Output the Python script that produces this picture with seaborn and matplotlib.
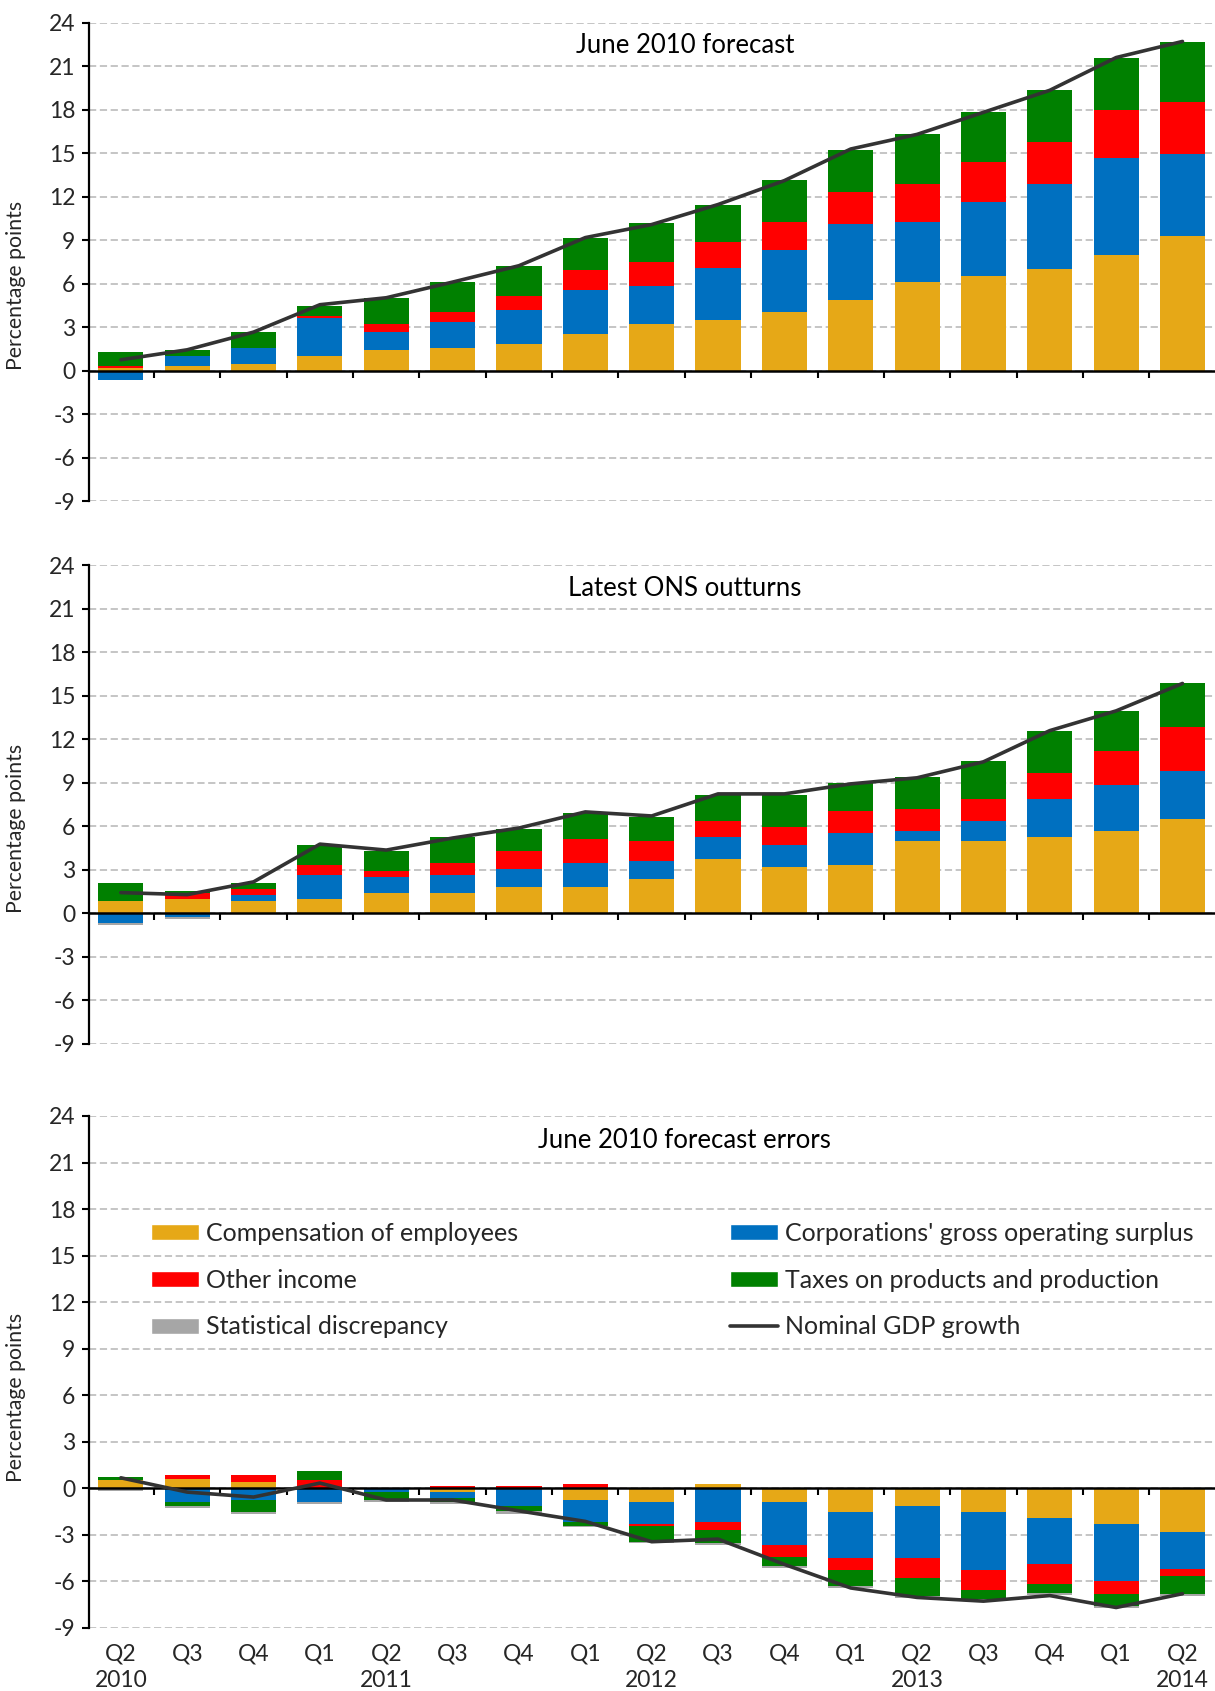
import numpy as np
import matplotlib
matplotlib.use("Agg")
import matplotlib.pyplot as plt
import seaborn as sns
from matplotlib.patches import Patch
from matplotlib.lines import Line2D

sns.set_theme(style="white")
plt.rcParams['font.family'] = ['Lato', 'DejaVu Sans']
plt.rcParams['axes.unicode_minus'] = False

# ------------------------------------------------------------------
# Data (percentage points, cumulative since Q1 2010)
# ------------------------------------------------------------------
quarters = ["Q2\n2010", "Q3", "Q4", "Q1", "Q2\n2011", "Q3", "Q4", "Q1",
            "Q2\n2012", "Q3", "Q4", "Q1", "Q2\n2013", "Q3", "Q4", "Q1", "Q2\n2014"]

# June 2010 forecast
fc_comp = [0.18, 0.32, 0.46, 1.01, 1.43, 1.57, 1.84, 2.53, 3.23, 3.50, 4.06, 4.88, 6.13, 6.54, 7.03, 8.00, 9.26]
fc_corp = [-0.62, 0.69, 1.10, 2.63, 1.24, 1.80, 2.35, 3.04, 2.63, 3.59, 4.24, 5.21, 4.10, 5.07, 5.83, 6.66, 5.67]
fc_other = [0.15, 0.0, 0.0, 0.14, 0.55, 0.69, 0.97, 1.38, 1.66, 1.75, 1.94, 2.21, 2.63, 2.76, 2.90, 3.32, 3.59]
fc_taxes = [0.97, 0.41, 1.10, 0.69, 1.80, 2.07, 2.07, 2.21, 2.63, 2.60, 2.88, 2.88, 3.43, 3.43, 3.57, 3.57, 4.12]
fc_stat = [0.0] * 17
fc_gdp = [0.74, 1.43, 2.65, 4.54, 5.02, 6.10, 7.23, 9.17, 10.07, 11.45, 13.10, 15.28, 16.29, 17.81, 19.33, 21.59, 22.70]

# Latest ONS outturns
out_comp = [0.83, 0.97, 0.83, 0.97, 1.38, 1.38, 1.80, 1.80, 2.35, 3.73, 3.18, 3.32, 4.98, 4.98, 5.26, 5.67, 6.50]
out_corp = [-0.69, -0.28, 0.41, 1.66, 1.11, 1.24, 1.24, 1.66, 1.24, 1.52, 1.52, 2.21, 0.69, 1.38, 2.63, 3.18, 3.32]
out_other = [0.0, 0.41, 0.41, 0.69, 0.41, 0.83, 1.24, 1.66, 1.38, 1.11, 1.24, 1.52, 1.52, 1.52, 1.80, 2.35, 3.04]
out_taxes = [1.24, 0.14, 0.41, 1.38, 1.38, 1.80, 1.52, 1.80, 1.66, 1.80, 2.21, 1.94, 2.21, 2.63, 2.90, 2.77, 3.04]
out_stat = [-0.12, -0.12, 0, 0, 0, 0, 0, 0, 0, 0, 0, 0, 0, 0, 0, 0, 0]
out_gdp = [1.43, 1.29, 2.17, 4.77, 4.36, 5.19, 5.88, 6.99, 6.71, 8.23, 8.23, 8.92, 9.34, 10.44, 12.59, 13.95, 15.84]

# June 2010 forecast errors
err_comp = [0.53, 0.63, 0.38, 0.0, 0.0, -0.25, 0.0, -0.76, -0.90, 0.27, -0.90, -1.53, -1.14, -1.53, -1.92, -2.30, -2.84]
err_corp = [0.0, -0.89, -0.74, -0.89, -0.25, -0.38, -1.12, -1.41, -1.41, -2.18, -2.72, -2.96, -3.35, -3.71, -2.96, -3.64, -2.33]
err_other = [0.0, 0.25, 0.51, 0.53, 0.0, 0.13, 0.13, 0.25, -0.12, -0.51, -0.78, -0.75, -1.31, -1.33, -1.31, -0.87, -0.48]
err_taxes = [0.23, -0.23, -0.76, 0.61, -0.49, -0.23, -0.36, -0.24, -1.02, -0.85, -0.63, -1.07, -1.12, -0.56, -0.58, -0.75, -1.16]
err_stat = [-0.20, -0.13, -0.13, -0.10, -0.13, -0.13, -0.15, -0.05, -0.10, -0.10, -0.10, -0.12, -0.12, -0.10, -0.10, -0.12, -0.10]
err_gdp = [0.68, -0.24, -0.56, 0.34, -0.75, -0.75, -1.45, -2.13, -3.44, -3.27, -4.90, -6.42, -7.03, -7.27, -6.91, -7.68, -6.79]

series_names = ["Compensation of employees", "Corporations' gross operating surplus",
                "Other income", "Taxes on products and production", "Statistical discrepancy"]
colors = ["#E6A817", "#0070C0", "#FF0000", "#008000", "#A6A6A6"]
line_color = "#333333"

x_idx = np.arange(len(quarters))

# ------------------------------------------------------------------
# Figure layout
# ------------------------------------------------------------------
fig = plt.figure(figsize=(12.15, 16.91), dpi=100)
left = 89 / 1215
panel_boxes = [
    (1 - 501 / 1691, (501 - 22.6) / 1691),
    (1 - 1044 / 1691, (1044 - 565) / 1691),
    (1 - 1628 / 1691, (1628 - 1116) / 1691),
]

panels = [
    ("June 2010 forecast", [fc_comp, fc_corp, fc_other, fc_taxes, fc_stat], fc_gdp),
    ("Latest ONS outturns", [out_comp, out_corp, out_other, out_taxes, out_stat], out_gdp),
    ("June 2010 forecast errors", [err_comp, err_corp, err_other, err_taxes, err_stat], err_gdp),
]

axes = []
for (bottom, height), (title, parts, gdp) in zip(panel_boxes, panels):
    ax = fig.add_axes([left, bottom, 1 - left, height])
    axes.append(ax)

    # stacked bars, positives and negatives stacked separately
    pos = np.zeros(len(x_idx))
    neg = np.zeros(len(x_idx))
    for vals, col in zip(parts, colors):
        vals = np.asarray(vals, dtype=float)
        base = np.where(vals >= 0, pos, neg)
        sns.barplot(x=x_idx, y=vals, bottom=base, color=col, width=0.68,
                    native_scale=True, saturation=1, linewidth=0, ax=ax, zorder=2)
        pos += np.clip(vals, 0, None)
        neg += np.clip(vals, None, 0)

    sns.lineplot(x=x_idx, y=gdp, color=line_color, linewidth=2.6, ax=ax, zorder=4)

    ax.set_xlim(-0.48, 16.49)
    ax.set_ylim(-9, 24)
    ax.set_yticks(np.arange(-9, 25, 3))
    ax.set_yticklabels([str(v) for v in range(-9, 25, 3)])
    ax.yaxis.grid(True, linestyle=(0, (4, 2)), color="#C0C0C0", linewidth=1.3)
    ax.xaxis.grid(False)
    ax.set_axisbelow(True)

    for s in ["top", "right"]:
        ax.spines[s].set_visible(False)
    ax.spines["left"].set_color("black")
    ax.spines["left"].set_linewidth(1.6)
    ax.spines["bottom"].set_position(("data", 0))
    ax.spines["bottom"].set_color("black")
    ax.spines["bottom"].set_linewidth(1.8)
    ax.spines["bottom"].set_zorder(3)

    ax.set_xticks(np.arange(0.5, 16, 1))
    ax.set_xticklabels([])
    ax.tick_params(axis="x", direction="out", length=5, width=1.5, color="black", bottom=True)
    ax.tick_params(axis="y", direction="out", length=5, width=1.5, color="black", left=True,
                   labelsize=16.5, pad=5)
    ax.set_xlabel("")
    ax.set_ylabel("Percentage points", fontsize=15.3)
    ax.yaxis.set_label_coords(-0.056, 0.45)

    ax.text(8.5, 22.4, title, ha="center", va="center", fontsize=18.5, color="black")

# quarter labels under the bottom panel
ax3 = axes[2]
sec = ax3.secondary_xaxis("bottom")
sec.set_xticks(x_idx)
sec.set_xticklabels(quarters, fontsize=16.5, linespacing=1.3)
sec.tick_params(length=0, pad=11.5)
sec.spines["bottom"].set_visible(False)

# legend, two columns
handles1 = [Patch(facecolor=colors[0], label=series_names[0]),
            Patch(facecolor=colors[2], label=series_names[2]),
            Patch(facecolor=colors[4], label=series_names[4])]
handles2 = [Patch(facecolor=colors[1], label=series_names[1]),
            Patch(facecolor=colors[3], label=series_names[3]),
            Line2D([0], [0], color=line_color, linewidth=2.6, label="Nominal GDP growth")]

leg_kw = dict(loc="upper left", frameon=False, fontsize=18, borderpad=0, borderaxespad=0,
              handlelength=1.94, handleheight=0.6, handletextpad=0.26, labelspacing=0.95)
leg1 = ax3.legend(handles=handles1, bbox_to_anchor=(0.055, 0.793), **leg_kw)
ax3.add_artist(leg1)
ax3.legend(handles=handles2, bbox_to_anchor=(0.569, 0.793), **leg_kw)

plt.savefig("out.png", dpi=100)
